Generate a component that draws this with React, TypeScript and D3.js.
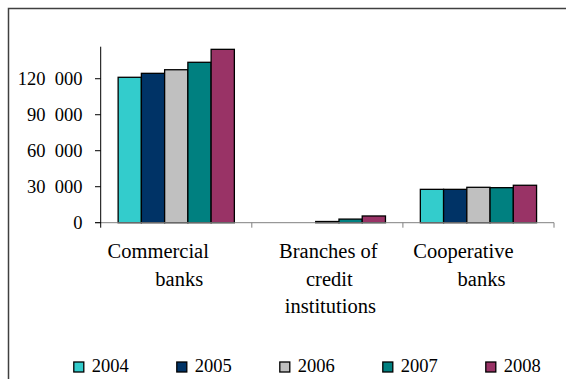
import React from "react";
import * as d3 from "d3";

const categories = ["Commercial banks", "Branches of credit institutions", "Cooperative banks"];
const categoryLines = [["Commercial", "banks"], ["Branches of", "credit", "institutions"], ["Cooperative", "banks"]];
const years = ["2004", "2005", "2006", "2007", "2008"];
const colors = ["#33CCCC", "#003366", "#C0C0C0", "#008080", "#993366"];
const v2004 = [121200, 0, 27800];
const v2005 = [124500, 0, 27800];
const v2006 = [127500, 1000, 29500];
const v2007 = [133700, 3000, 29200];
const v2008 = [144500, 5600, 31200];
const series = [v2004, v2005, v2006, v2007, v2008];
const yTicks = [0, 30000, 60000, 90000, 120000];
const yMax = 146700;

// per-line horizontal shift of category labels (Excel-like wrapping)
const lineShift = [[-18, 3], [1, 2, 3], [-15, 3]];

export default function App() {
  const W = 566, H = 379;
  const x = d3.scaleBand<string>().domain(categories).range([100.7, 554]).padding(0);
  const y = d3.scaleLinear().domain([0, yMax]).range([222.7, 46.7]);
  const bw = x.bandwidth() / 6.5;
  const fmt = (v: number) => d3.format(",")(v).replace(/,/g, "\u2002");
  return (
    <svg width={W} height={H} style={{ position: "absolute", left: 0, top: 0, background: "#fff", fontFamily: "'Liberation Serif', 'Times New Roman', Times, serif" }}>
      <rect x={8.5} y={8.5} width={700} height={500} fill="#fff" stroke="#404040" strokeWidth={1.5} />
      {/* bars */}
      {categories.map((c, ci) =>
        series.map((s, si) => {
          const v = s[ci];
          if (v <= 0) return null;
          const x0 = (x(c) as number) + 0.75 * bw + si * bw;
          return (
            <rect key={c + si} x={x0} y={y(v)} width={bw} height={y(0) - y(v)}
              fill={colors[si]} stroke="#000" strokeWidth={1.3} />
          );
        })
      )}
      {/* x axis */}
      <line x1={95} x2={554} y1={y(0)} y2={y(0)} stroke="#808080" strokeWidth={1} />
      {categories.map((c, i) => (
        <line key={"xt" + i} x1={(x(c) as number) + x.bandwidth()} x2={(x(c) as number) + x.bandwidth()}
          y1={y(0)} y2={y(0) + 5} stroke="#808080" strokeWidth={1} />
      ))}
      {/* y axis */}
      <line x1={100.7} x2={100.7} y1={y(yMax)} y2={y(0) + 5} stroke="#000" strokeWidth={1} />
      {yTicks.map((t) => (
        <g key={"yt" + t}>
          <line x1={95} x2={100.7} y1={y(t)} y2={y(t)} stroke="#000" strokeWidth={1} />
          <text x={82.5} y={y(t)} dy="0.35em" textAnchor="end" fontSize={18.5} fill="#000">
            {fmt(t)}
          </text>
        </g>
      ))}
      {/* category labels */}
      {categories.map((c, i) => (
        <text key={"cl" + i} textAnchor="middle" fontSize={20.5} fill="#000">
          {categoryLines[i].map((ln, li) => (
            <tspan key={li} x={(x(c) as number) + x.bandwidth() / 2 + lineShift[i][li]} y={258.3 + li * 27.4}>
              {ln}
            </tspan>
          ))}
        </text>
      ))}
      {/* legend */}
      {years.map((yr, i) => (
        <g key={"lg" + i} transform={`translate(${73.8 + i * 103},0)`}>
          <rect x={0} y={362} width={10} height={10} fill={colors[i]} stroke="#000" strokeWidth={1.3} />
          <text x={18} y={372.3} fontSize={18.5} fill="#000">{yr}</text>
        </g>
      ))}
    </svg>
  );
}
